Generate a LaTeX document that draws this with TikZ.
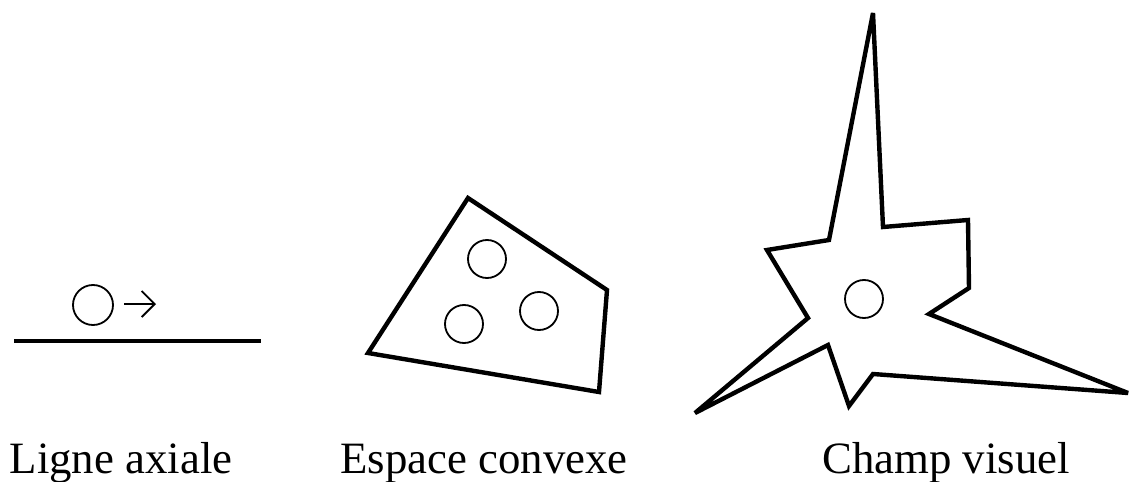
\documentclass[tikz,border=0pt]{standalone}
\usepackage{fontspec}
\setmainfont{Liberation Serif}
\usetikzlibrary{arrows.meta}
\tikzset{
  contour/.style={line width=2.2pt, line join=miter, miter limit=3},
  person/.style={line width=0.9pt},
  caption/.style={anchor=base, inner sep=0pt, font=\fontsize{22.4}{26}\selectfont}
}
\begin{document}
\begin{tikzpicture}[x=0.5pt, y=-0.5pt]
		\useasboundingbox (0,0) rectangle (1132,482);
		
		% Axial line
		\draw[line width=2.3pt] (14,341) -- (261,341);
		\draw[person] (93,305) circle (20);
		\draw[person, -{Straight Barb[length=6.5pt, width=13pt]}] (124,304) -- (156,304);
		\node[caption] (axial) at (121,473) {Ligne axiale};
		
		% Convex space
		\draw[contour] (468,198) -- (607,290) -- (599,392) -- (368,353) -- cycle;
		\draw[person] (487,259) circle (19);
		\draw[person] (464,324) circle (19);
		\draw[person] (539,311) circle (19);
		\node[caption] (convex) at (484,473) {Espace convexe};
		
		% Isovist
		\draw[contour] (873,13) -- (883,227) -- (968,220) -- (969,288) -- (929,314)
		  -- (1128,393) -- (873,374) -- (849,406) -- (828,345) -- (695,413)
		  -- (808,318) -- (767,250) -- (829,240) -- cycle;
		\draw[person] (864,299) circle (19);
		\node[caption] (isovist) at (946,473) {Champ visuel};
	\end{tikzpicture}
\end{document}
